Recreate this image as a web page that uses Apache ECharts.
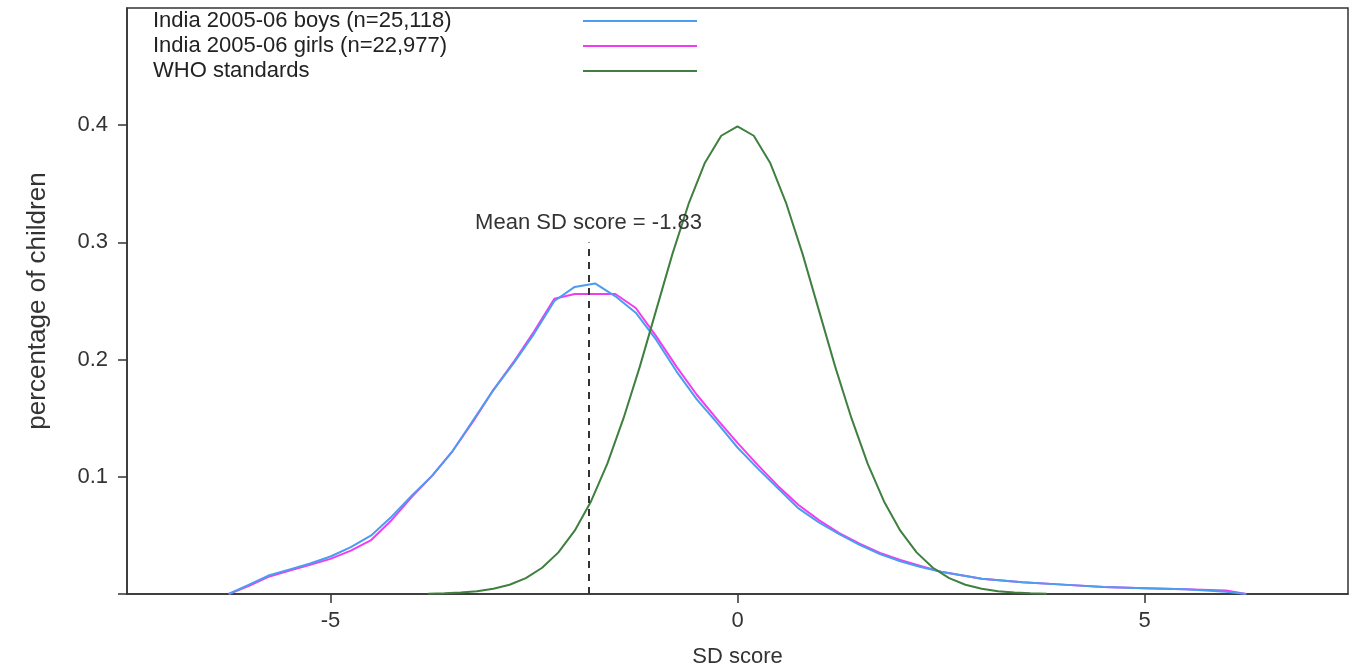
<!DOCTYPE html>
<html>
<head>
<meta charset="utf-8">
<title>SD score distribution</title>
<script src="https://cdn.jsdelivr.net/npm/echarts@6/dist/echarts.min.js"></script>
<style>
  html, body { margin: 0; padding: 0; background: #fff; }
  #chart { width: 1358px; height: 668px; }
</style>
</head>
<body>
<div id="chart"></div>
<script>
// SD score grid shared by the two India curves
const indiaX = [-6.25, -6.0, -5.75, -5.5, -5.25, -5.0, -4.75, -4.5, -4.25, -4.0, -3.75, -3.5, -3.25, -3.0, -2.75,
  -2.5, -2.25, -2.0, -1.75, -1.5, -1.25, -1.0, -0.75, -0.5, -0.25, 0, 0.25, 0.5, 0.75, 1.0,
  1.25, 1.5, 1.75, 2.0, 2.25, 2.5, 2.75, 3.0, 3.5, 4.0, 4.5, 5.0, 5.5, 6.0, 6.25];
const boys = [0.000, 0.008, 0.016, 0.021, 0.026, 0.032, 0.040, 0.050, 0.066, 0.084, 0.101, 0.122, 0.148, 0.174, 0.197,
  0.222, 0.250, 0.262, 0.265, 0.254, 0.240, 0.217, 0.190, 0.166, 0.146, 0.125, 0.107, 0.090, 0.073, 0.061,
  0.051, 0.042, 0.034, 0.028, 0.023, 0.019, 0.016, 0.013, 0.010, 0.008, 0.006, 0.005, 0.004, 0.002, 0.000];
const girls = [0.000, 0.007, 0.015, 0.020, 0.025, 0.030, 0.037, 0.046, 0.063, 0.083, 0.101, 0.122, 0.147, 0.174, 0.198,
  0.224, 0.252, 0.256, 0.256, 0.256, 0.244, 0.220, 0.194, 0.170, 0.149, 0.129, 0.110, 0.092, 0.076, 0.063,
  0.052, 0.043, 0.035, 0.029, 0.024, 0.019, 0.016, 0.013, 0.010, 0.008, 0.006, 0.005, 0.004, 0.003, 0.000];

// WHO reference curve
const whoX = [-3.8, -3.6, -3.4, -3.2, -3.0, -2.8, -2.6, -2.4, -2.2, -2.0, -1.8, -1.6, -1.4, -1.2, -1.0, -0.8, -0.6, -0.4, -0.2,
  0, 0.2, 0.4, 0.6, 0.8, 1.0, 1.2, 1.4, 1.6, 1.8, 2.0, 2.2, 2.4, 2.6, 2.8, 3.0, 3.2, 3.4, 3.6, 3.8];
const who = [0.0003, 0.0006, 0.0012, 0.0024, 0.0044, 0.0079, 0.0136, 0.0224, 0.0355, 0.054, 0.079, 0.111, 0.150, 0.194, 0.242, 0.290, 0.333, 0.368, 0.391,
  0.399, 0.391, 0.368, 0.333, 0.290, 0.242, 0.194, 0.150, 0.111, 0.079, 0.054, 0.0355, 0.0224, 0.0136, 0.0079, 0.0044, 0.0024, 0.0012, 0.0006, 0.0003];

const seriesNames = ['India 2005-06 boys (n=25,118)', 'India 2005-06 girls (n=22,977)', 'WHO standards'];
const meanScore = -1.83;
const meanLineTop = 0.30;
const xTicks = [-5, 0, 5];
const yTicks = [0, 0.1, 0.2, 0.3, 0.4];
const yLabels = [0.1, 0.2, 0.3, 0.4];

const ink = '#333';
const font = '"Liberation Sans", Arial, sans-serif';

function pairs(xs, ys) { return xs.map((x, i) => [x, ys[i]]); }

const chart = echarts.init(document.getElementById('chart'), null, { renderer: 'canvas' });
chart.setOption({
  animation: false,
  backgroundColor: '#fff',
  textStyle: { fontFamily: font, color: ink },
  grid: {
    left: 127, right: 10, top: 8, bottom: 74, outerBoundsMode: 'none',
    show: true, borderColor: ink, borderWidth: 1.5
  },
  legend: {
    data: seriesNames,
    orient: 'vertical',
    left: 153, top: 10, padding: 0,
    align: 'right',
    icon: 'rect',
    itemWidth: 114, itemHeight: 2, itemGap: 3,
    formatter: '{n|{name}}',
    textStyle: {
      fontFamily: font, color: '#222', fontSize: 22,
      rich: { n: { width: 425, align: 'left', fontSize: 22, lineHeight: 22, fontFamily: font, color: '#222' } }
    }
  },
  xAxis: {
    type: 'value', min: -7.5, max: 7.5,
    name: 'SD score', nameLocation: 'middle', nameGap: 52,
    nameTextStyle: { fontSize: 22, color: ink, fontFamily: font },
    axisLine: { onZero: false, lineStyle: { color: ink, width: 1.5 } },
    axisTick: { customValues: xTicks, length: 9, lineStyle: { color: ink, width: 1.5 } },
    axisLabel: { customValues: xTicks, margin: 16, fontSize: 22, color: ink, fontFamily: font },
    splitLine: { show: false }
  },
  yAxis: {
    type: 'value', min: 0, max: 0.5,
    name: 'percentage of children', nameLocation: 'middle', nameGap: 76, nameRotate: 90,
    nameTextStyle: { fontSize: 26, color: ink, fontFamily: font },
    axisLine: { show: true, onZero: false, lineStyle: { color: ink, width: 1.5 } },
    axisTick: { customValues: yTicks, length: 9, lineStyle: { color: ink, width: 1.5 } },
    axisLabel: { customValues: yLabels, margin: 19, fontSize: 22, color: ink, fontFamily: font },
    splitLine: { show: false }
  },
  series: [
    {
      name: seriesNames[0], type: 'line', data: pairs(indiaX, boys),
      symbol: 'none', z: 3,
      lineStyle: { color: '#4a9df0', width: 2 }, itemStyle: { color: '#4a9df0' },
      markLine: {
        silent: true, symbol: 'none',
        lineStyle: { color: ink, width: 2, type: [7, 6] },
        label: { show: true, position: 'end', distance: 8, formatter: 'Mean SD score = ' + meanScore,
          fontSize: 22, color: ink, fontFamily: font },
        data: [[{ coord: [meanScore, 0] }, { coord: [meanScore, meanLineTop] }]]
      }
    },
    {
      name: seriesNames[1], type: 'line', data: pairs(indiaX, girls),
      symbol: 'none', z: 2,
      lineStyle: { color: '#f23cf2', width: 2 }, itemStyle: { color: '#f23cf2' }
    },
    {
      name: seriesNames[2], type: 'line', data: pairs(whoX, who),
      symbol: 'none', z: 4,
      lineStyle: { color: '#3f7f3f', width: 2 }, itemStyle: { color: '#3f7f3f' }
    }
  ]
});
</script>
</body>
</html>
